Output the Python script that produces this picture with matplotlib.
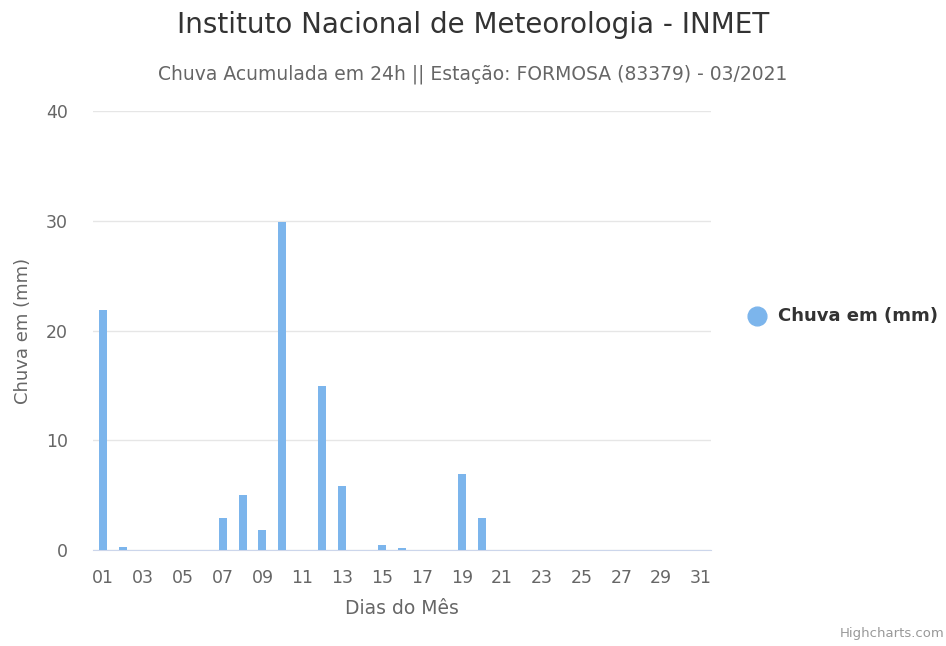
import numpy as np
import matplotlib.pyplot as plt

# dados
dias = [f"{d:02d}" for d in range(1, 32)]
chuva = [21.9, 0.3, 0, 0, 0, 0, 2.9, 5.0, 1.8, 29.9, 0, 14.9, 5.8, 0, 0.5, 0.2,
         0, 0, 6.9, 2.9, 0, 0, 0, 0, 0, 0, 0, 0, 0, 0, 0]
yticks = [0, 10, 20, 30, 40]

W, H = 946, 646
fig = plt.figure(figsize=(W / 100, H / 100), dpi=100)
ax = fig.add_axes([93 / W, (H - 550) / H, (711 - 93) / W, (550 - 111) / H])

x = np.arange(len(dias))
ax.bar(x, chuva, width=0.4, color='#7cb5ec', zorder=3)

ax.set_xlim(-0.5, len(dias) - 0.5)
ax.set_ylim(0, 40)
ax.set_yticks(yticks)
ax.set_xticks(x[::2])
ax.set_xticklabels(dias[::2])
ax.grid(axis='y', color='#e6e6e6', lw=1, zorder=0)
for s in ['top', 'right', 'left']:
    ax.spines[s].set_visible(False)
ax.spines['bottom'].set_color('#ccd6eb')
ax.tick_params(axis='both', length=0, labelsize=12.5, colors='#666666')
ax.tick_params(axis='x', pad=14)
ax.tick_params(axis='y', pad=18)

ax.set_xlabel('Dias do Mês', fontsize=13.5, color='#666666', labelpad=8)
ax.set_ylabel('Chuva em (mm)', fontsize=13, color='#666666', labelpad=10)

fig.text(473 / W, 1 - 25 / H, 'Instituto Nacional de Meteorologia - INMET',
         ha='center', va='center', fontsize=20, color='#333333')
fig.text(473 / W, 1 - 74 / H, 'Chuva Acumulada em 24h || Estação: FORMOSA (83379) - 03/2021',
         ha='center', va='center', fontsize=13.5, color='#666666')

# legenda
fig.add_artist(plt.Line2D([757 / W], [1 - 316 / H], marker='o', markersize=13.5,
                          color='#7cb5ec', transform=fig.transFigure))
fig.text(778 / W, 1 - 316 / H, 'Chuva em (mm)', ha='left', va='center',
         fontsize=13, fontweight='bold', color='#333333')

fig.text(944 / W, 1 - 634 / H, 'Highcharts.com', ha='right', va='center',
         fontsize=9.5, color='#999999')

fig.savefig('out.png', dpi=100, facecolor='white')
